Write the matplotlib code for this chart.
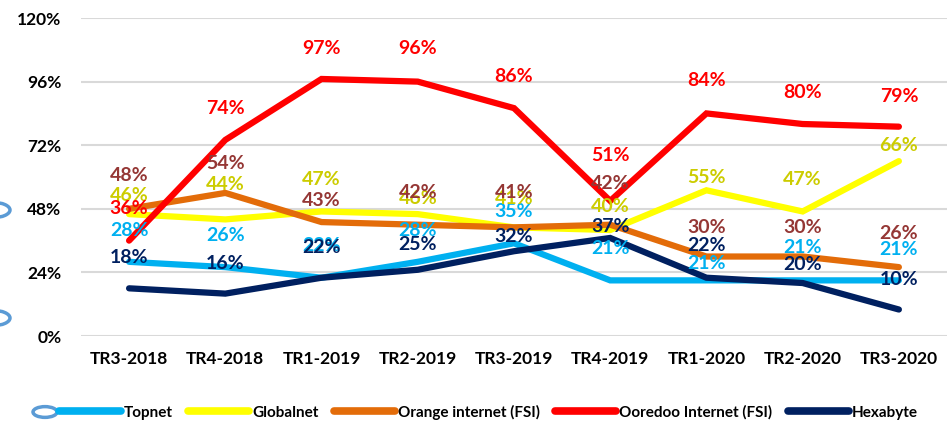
"""Quarterly market share of Tunisian ISPs, TR3-2018 to TR3-2020."""
import matplotlib.pyplot as plt
from matplotlib.patches import Circle
import numpy as np

plt.rcParams["font.family"] = ["Lato", "DejaVu Sans"]

quarters = ["TR3-2018", "TR4-2018", "TR1-2019", "TR2-2019", "TR3-2019",
            "TR4-2019", "TR1-2020", "TR2-2020", "TR3-2020"]
series_names = ["Topnet", "Globalnet", "Orange internet (FSI)",
                "Ooredoo Internet (FSI)", "Hexabyte"]
topnet = [28, 26, 22, 28, 35, 21, 21, 21, 21]
globalnet = [46, 44, 47, 46, 41, 40, 55, 47, 66]
orange = [48, 54, 43, 42, 41, 42, 30, 30, 26]
ooredoo = [36, 74, 97, 96, 86, 51, 84, 80, 79]
hexabyte = [18, 16, 22, 25, 32, 37, 22, 20, 10]

# style: (line colour, label colour, label nudges above the point in % units)
styles = [
    ("#00B0F0", "#00B0F0", [12, 12, 12, 12, 12, 12, 6.5, 12.5, 11.5]),
    ("#FFFF00", "#CCCC00", [7, 13, 12, 6, 11, 9, 5, 12, 6]),
    ("#E36C09", "#953735", [12.5, 11, 8, 12, 13, 15.5, 11, 11, 12.5]),
    ("#FF0000", "#FF0000", [12, 12, 11.5, 12.5, 12, 17, 12.5, 12, 11.5]),
    ("#002060", "#002060", [11.5, 11.5, 11.5, 9.5, 5.5, 4.5, 12, 7, 11.5]),
]
values = [topnet, globalnet, orange, ooredoo, hexabyte]

fig = plt.figure(figsize=(9.47, 4.24), dpi=100)
ax = fig.add_axes([0.0855, 0.2075, 0.9145, 0.75])
x = np.arange(len(quarters))

lines = []
for name, vals, (lc, _, _) in zip(series_names, values, styles):
    (ln,) = ax.plot(x, vals, color=lc, linewidth=4.5, solid_capstyle="round",
                    solid_joinstyle="miter", label=name, zorder=3)
    lines.append(ln)

for vals, (_, tc, nudges) in zip(values, styles):
    for i, v in enumerate(vals):
        ax.text(x[i], v + nudges[i], f"{v}%", ha="center", va="center",
                color=tc, fontsize=14, fontweight="bold", zorder=5)

ax.set_xlim(-0.5, len(quarters) - 0.5)
ax.set_ylim(0, 120)
ax.set_yticks(np.arange(0, 121, 24))
ax.set_yticklabels([f"{t}%" for t in range(0, 121, 24)])
ax.set_xticks(x)
ax.set_xticklabels(quarters)
ax.tick_params(axis="both", length=0, labelsize=12.5)
ax.tick_params(axis="y", pad=14)
ax.tick_params(axis="x", pad=11)
for lab in ax.get_xticklabels() + ax.get_yticklabels():
    lab.set_fontweight("bold")
ax.grid(axis="y", color="#D9D9D9", linewidth=1.5, zorder=0)
ax.set_axisbelow(True)
for sp in ax.spines.values():
    sp.set_visible(False)

leg = fig.legend(handles=lines, loc="center", bbox_to_anchor=(0.516, 0.028), ncol=5,
                 frameon=False, handlelength=4.0, handletextpad=0.2, columnspacing=1.0,
                 prop={"weight": "bold", "size": 11})
for h in leg.legend_handles:
    h.set_linewidth(5.5)

# decorative circles from the slide background
for cx, cy, r in [(-7, 210, 17), (-7, 318, 17), (45, 412, 12)]:
    fig.patches.append(Circle((cx / 947, 1 - cy / 424), r / 947, fill=False,
                              edgecolor="#5B9BD5", linewidth=2.5,
                              transform=fig.transFigure))

fig.savefig("out.png", dpi=100)
